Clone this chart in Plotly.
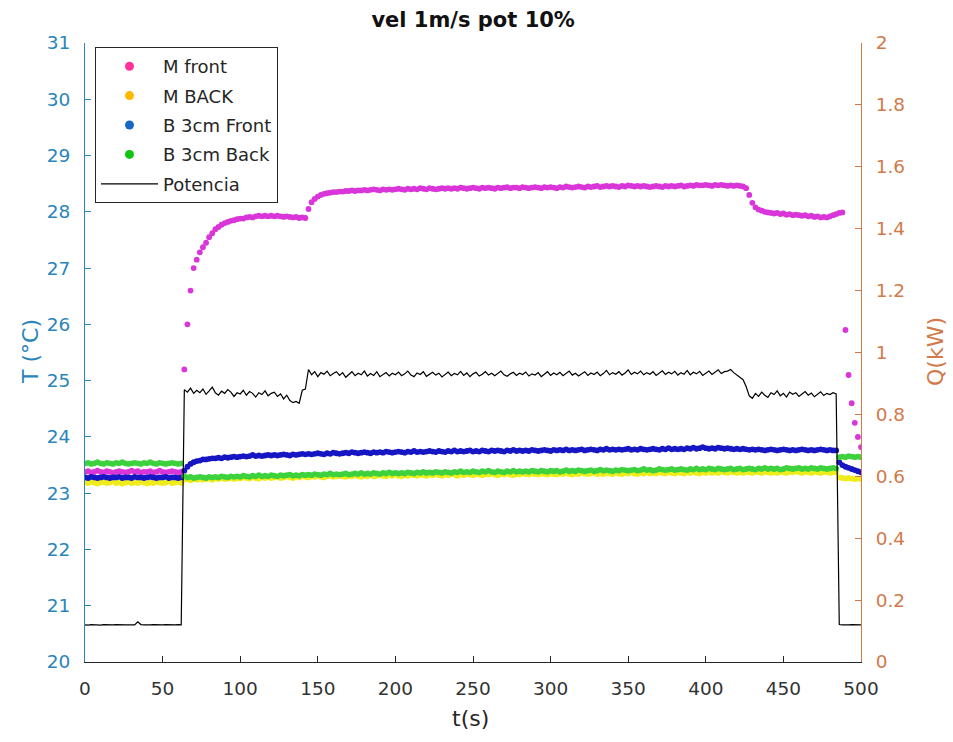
import plotly.graph_objects as go

# ---------------- data ----------------
t = list(range(0, 501, 2))  # time (s), 2 s sampling

m_front = [
    23.38,23.39,23.37,23.38,23.40,23.38,23.37,23.39,23.38,23.36,23.38,23.39,23.38,23.37,23.38,23.40,
    23.38,23.39,23.37,23.38,23.38,23.39,23.37,23.38,23.40,23.38,23.37,23.38,23.39,23.38,23.37,23.38,
    25.20,26.00,26.60,27.00,27.15,27.28,27.37,27.45,27.55,27.62,27.69,27.73,27.77,27.80,27.82,27.84,
    27.85,27.87,27.88,27.88,27.90,27.91,27.90,27.92,27.93,27.92,27.93,27.92,27.93,27.92,27.93,27.92,
    27.91,27.92,27.91,27.90,27.91,27.89,27.90,27.89,
    28.05,28.17,28.23,28.27,28.30,28.32,28.33,28.34,28.35,28.35,28.36,28.36,28.37,28.37,28.38,28.37,28.38,
    28.38,28.39,28.38,28.39,28.40,28.39,28.38,28.40,28.39,28.40,
    28.39,28.40,28.41,28.40,28.39,28.41,28.40,28.41,28.40,28.42,
    28.41,28.40,28.42,28.41,28.40,28.41,28.42,28.41,28.42,28.41,
    28.42,28.41,28.43,28.42,28.41,28.42,28.43,28.42,28.41,28.43,
    28.42,28.43,28.42,28.41,28.43,28.42,28.43,28.44,28.42,28.43,
    28.43,28.42,28.44,28.43,28.42,28.43,28.44,28.43,28.42,28.44,
    28.43,28.44,28.43,28.42,28.44,28.43,28.45,28.44,28.43,28.44,
    28.45,28.44,28.43,28.45,28.44,28.45,28.46,28.44,28.45,28.46,
    28.45,28.46,28.45,28.44,28.46,28.45,28.47,28.46,28.45,28.46,
    28.45,28.46,28.45,28.44,28.45,28.46,28.45,28.44,28.46,28.45,
    28.46,28.45,28.46,28.47,28.45,28.46,28.47,28.46,28.48,28.47,
    28.47,28.48,28.47,28.46,28.48,28.47,28.48,28.47,28.46,28.47,
    28.46,28.47,28.46,28.45,
    28.42,28.30,28.16,28.08,28.04,28.02,28.00,27.99,27.98,27.97,27.98,27.96,27.97,27.95,27.96,27.94,
    27.95,27.94,27.93,27.94,27.92,27.93,27.91,27.92,27.90,27.91,27.90,27.92,27.94,27.96,27.98,27.99,
    25.90,25.10,24.60,24.25,24.00,23.82,
]

m_back = [
    23.19,23.18,23.20,23.19,23.17,23.19,23.20,23.18,23.19,23.21,23.18,23.19,23.17,23.19,23.20,23.18,
    23.19,23.18,23.20,23.19,23.17,23.19,23.18,23.20,23.19,23.18,23.19,23.21,23.18,23.19,23.20,23.18,
    23.24,23.25,23.23,23.25,23.24,23.26,23.24,23.25,23.26,23.24,
    23.26,23.25,23.27,23.25,23.26,23.27,23.25,23.27,23.26,23.28,
    23.27,23.26,23.28,23.27,23.26,23.28,23.27,23.29,23.27,23.28,
    23.29,23.27,23.28,23.30,23.28,23.27,23.29,23.28,23.30,23.29,
    23.28,23.30,23.29,23.31,23.29,23.28,23.30,23.31,23.29,23.30,
    23.31,23.30,23.29,23.31,23.30,23.32,23.30,23.29,23.31,23.30,
    23.32,23.30,23.31,23.33,23.31,23.30,23.32,23.31,23.33,23.31,
    23.30,23.32,23.31,23.33,23.32,23.31,23.33,23.32,23.31,23.33,
    23.32,23.34,23.32,23.31,23.33,23.32,23.34,23.33,23.31,23.33,
    23.32,23.34,23.33,23.32,23.34,23.33,23.32,23.34,23.33,23.35,
    23.33,23.32,23.34,23.33,23.35,23.33,23.32,23.34,23.33,23.35,
    23.34,23.33,23.35,23.34,23.33,23.35,23.34,23.33,23.35,23.34,
    23.33,23.35,23.34,23.36,23.34,23.33,23.35,23.34,23.36,23.35,
    23.34,23.35,23.36,23.34,23.35,23.34,23.36,23.35,23.34,23.36,
    23.35,23.34,23.36,23.35,23.37,23.35,23.34,23.36,23.35,23.37,
    23.35,23.36,23.35,23.37,23.36,23.35,23.37,23.36,23.35,23.37,
    23.36,23.35,23.37,23.36,23.38,23.36,23.35,23.37,23.36,23.38,
    23.36,23.37,23.36,23.38,23.37,23.36,23.38,23.37,23.36,23.37,
    23.36,23.38,23.37,23.36,23.38,23.37,23.36,23.38,23.37,23.36,
    23.37,23.36,23.38,23.37,23.36,23.38,23.37,23.39,23.37,23.36,
    23.38,23.37,23.36,23.38,23.37,23.36,23.38,23.37,23.36,23.37,
    23.37,23.28,23.27,23.26,23.27,23.26,23.25,23.26,23.25,
]

b_front = [
    23.28,23.27,23.29,23.28,23.27,23.28,23.29,23.28,23.27,23.28,23.28,23.29,23.27,23.28,23.28,23.27,
    23.29,23.28,23.28,23.27,23.28,23.29,23.28,23.27,23.28,23.28,23.29,23.27,23.28,23.28,23.27,23.28,
    23.40,23.47,23.52,23.55,23.57,23.58,23.60,23.60,23.61,23.62,
    23.62,23.63,23.62,23.64,23.63,23.64,23.65,23.64,23.65,23.66,
    23.65,23.66,23.68,23.66,23.67,23.66,23.67,23.68,23.67,23.68,
    23.67,23.68,23.69,23.68,23.67,23.69,23.68,23.69,23.70,23.69,
    23.70,23.69,23.70,23.71,23.70,23.69,23.71,23.70,23.72,23.71,
    23.70,23.71,23.72,23.71,23.73,23.72,23.71,23.72,23.73,23.72,
    23.71,23.73,23.72,23.73,23.72,23.74,23.73,23.72,23.73,23.74,
    23.73,23.72,23.74,23.73,23.75,23.73,23.74,23.73,23.74,23.75,
    23.74,23.73,23.75,23.74,23.73,23.75,23.74,23.76,23.74,23.75,
    23.74,23.75,23.76,23.74,23.75,23.74,23.76,23.75,23.74,23.76,
    23.75,23.76,23.75,23.74,23.76,23.75,23.77,23.75,23.76,23.75,
    23.76,23.75,23.77,23.76,23.75,23.76,23.77,23.76,23.75,23.77,
    23.76,23.77,23.76,23.78,23.76,23.77,23.76,23.77,23.78,23.76,
    23.77,23.78,23.77,23.76,23.78,23.77,23.79,23.77,23.78,23.77,
    23.78,23.77,23.78,23.79,23.77,23.78,23.77,23.79,23.78,23.77,
    23.78,23.79,23.78,23.77,23.79,23.78,23.80,23.78,23.79,23.78,
    23.79,23.78,23.80,23.79,23.81,23.79,23.80,23.82,23.80,23.79,
    23.80,23.79,23.81,23.80,23.79,23.80,23.79,23.78,23.79,23.78,
    23.79,23.78,23.77,23.78,23.77,23.78,23.77,23.76,23.77,23.78,
    23.77,23.76,23.77,23.78,23.77,23.76,23.77,23.76,23.77,23.78,
    23.77,23.76,23.77,23.76,23.77,23.78,23.77,23.76,23.77,23.76,
    23.76,23.55,23.50,23.47,23.45,23.43,23.41,23.39,23.37,
]

b_back = [
    23.53,23.54,23.52,23.53,23.55,23.53,23.52,23.54,23.53,23.52,23.54,23.53,23.55,23.53,23.52,23.53,
    23.54,23.53,23.52,23.54,23.53,23.55,23.53,23.52,23.54,23.53,23.52,23.53,23.54,23.53,23.52,23.53,
    23.30,23.28,23.29,23.27,23.28,23.29,23.28,23.27,23.29,23.28,
    23.29,23.28,23.30,23.29,23.28,23.30,23.29,23.30,23.29,23.31,
    23.30,23.29,23.31,23.30,23.32,23.30,23.31,23.30,23.32,23.31,
    23.30,23.32,23.31,23.32,23.33,23.31,23.32,23.31,23.33,23.32,
    23.33,23.32,23.34,23.33,23.32,23.34,23.33,23.35,23.33,23.34,
    23.33,23.34,23.35,23.33,23.34,23.35,23.34,23.36,23.34,23.35,
    23.34,23.36,23.35,23.34,23.36,23.35,23.37,23.35,23.36,23.35,
    23.36,23.35,23.37,23.36,23.35,23.37,23.36,23.38,23.36,23.37,
    23.36,23.38,23.37,23.36,23.38,23.37,23.36,23.38,23.37,23.39,
    23.37,23.38,23.37,23.39,23.38,23.37,23.39,23.38,23.40,23.38,
    23.37,23.39,23.38,23.37,23.39,23.38,23.40,23.38,23.39,23.38,
    23.39,23.38,23.40,23.39,23.38,23.40,23.39,23.38,23.40,23.39,
    23.40,23.38,23.39,23.41,23.39,23.40,23.39,23.41,23.40,23.39,
    23.40,23.41,23.39,23.40,23.42,23.40,23.41,23.40,23.39,23.41,
    23.40,23.42,23.41,23.40,23.41,23.42,23.40,23.41,23.43,23.41,
    23.42,23.40,23.41,23.43,23.42,23.41,23.42,23.43,23.41,23.42,
    23.43,23.42,23.41,23.43,23.42,23.44,23.42,23.43,23.42,23.44,
    23.43,23.42,23.44,23.43,23.42,23.43,23.44,23.42,23.43,23.44,
    23.42,23.43,23.44,23.43,23.42,23.44,23.43,23.45,23.43,23.44,
    23.43,23.44,23.42,23.43,23.45,23.44,23.43,23.44,23.45,23.43,
    23.44,23.43,23.45,23.44,23.43,23.45,23.44,23.43,23.44,23.45,
    23.44,23.64,23.65,23.64,23.66,23.65,23.64,23.65,23.64,
]

potencia = [
    0.120,0.119,0.121,0.120,0.120,0.119,0.121,0.120,0.119,0.120,0.121,0.120,0.119,0.120,0.120,0.121,
    0.120,0.130,0.121,0.120,0.119,0.120,0.121,0.120,0.119,0.120,0.121,0.120,0.119,0.120,0.121,0.120,
    0.880,0.872,0.885,0.868,0.878,0.870,0.882,0.865,0.876,0.888,
    0.870,0.862,0.875,0.868,0.880,0.872,0.858,0.870,0.866,0.878,
    0.862,0.874,0.868,0.856,0.870,0.864,0.876,0.860,0.868,0.872,
    0.858,0.866,0.850,0.862,0.845,0.838,0.842,0.836,0.878,0.882,
    0.945,0.928,0.938,0.922,0.935,0.930,0.940,0.925,0.932,0.938,
    0.926,0.935,0.920,0.930,0.938,0.925,0.933,0.928,0.940,0.924,
    0.932,0.926,0.938,0.922,0.930,0.935,0.924,0.933,0.928,0.937,
    0.925,0.931,0.940,0.927,0.922,0.934,0.929,0.938,0.923,0.931,
    0.936,0.927,0.933,0.921,0.930,0.937,0.925,0.932,0.928,0.939,
    0.926,0.934,0.922,0.931,0.936,0.924,0.930,0.938,0.927,0.933,
    0.925,0.932,0.940,0.928,0.923,0.931,0.936,0.926,0.933,0.929,
    0.937,0.924,0.931,0.927,0.935,0.922,0.930,0.938,0.926,0.934,
    0.928,0.936,0.925,0.932,0.940,0.927,0.933,0.924,0.931,0.938,
    0.926,0.934,0.929,0.937,0.925,0.932,0.942,0.928,0.935,0.930,
    0.938,0.927,0.934,0.944,0.929,0.936,0.931,0.940,0.928,0.935,
    0.930,0.938,0.926,0.934,0.941,0.929,0.936,0.931,0.939,0.927,
    0.935,0.930,0.942,0.928,0.936,0.931,0.939,0.926,0.934,0.940,
    0.929,0.937,0.944,0.932,0.938,0.940,0.945,0.935,0.928,0.920,
    0.912,
    0.890,0.860,0.852,0.868,0.858,0.872,0.862,0.855,0.870,0.864,
    0.876,0.860,0.868,0.856,0.872,0.865,0.870,0.858,0.866,0.874,
    0.862,0.869,0.857,0.866,0.873,0.861,0.868,0.864,0.870,0.866,
    0.121,0.120,0.119,0.120,0.121,0.120,0.119,0.120,
]

names = ["M front", "M BACK", "B 3cm Front", "B 3cm Back"]
temp_series = [m_front, m_back, b_front, b_back]
data_colors = ["#d935d9", "#f0ec1c", "#1616c4", "#3dd23d"]
legend_colors = ["#ff3399", "#ffb800", "#1668c2", "#10c410"]

LEFT_C = "#2a85bb"
RIGHT_C = "#d27a4a"
FONT = "DejaVu Sans, Arial, Helvetica, sans-serif"

fig = go.Figure()

for name, ys, dc in zip(names, temp_series, data_colors):
    fig.add_trace(go.Scatter(x=t, y=ys, mode="markers", name=name, showlegend=False,
                             marker=dict(color=dc, size=5.8, line=dict(width=0)),
                             yaxis="y"))

fig.add_trace(go.Scatter(x=t, y=potencia, mode="lines", name="Potencia", showlegend=False,
                         line=dict(color="black", width=1.2), yaxis="y2"))

# legend entries
for i, (name, lc) in enumerate(zip(names, legend_colors)):
    fig.add_trace(go.Scatter(x=[None], y=[None], mode="markers", name=name,
                             legendgroup="g%d" % i,
                             marker=dict(color=lc, size=9), yaxis="y"))
fig.add_trace(go.Scatter(x=[None], y=[None], mode="lines", name="Potencia", legendgroup="g9",
                         line=dict(color="black", width=1.2), yaxis="y2"))

fig.update_layout(
    width=953, height=742,
    margin=dict(l=85, r=92, t=43, b=80),
    paper_bgcolor="white", plot_bgcolor="white",
    font=dict(family=FONT, size=18, color="#262626"),
    title=dict(text="<b>vel 1m/s pot 10%</b>", x=0.4965, xanchor="center",
               y=1 - 20 / 742, yanchor="middle", yref="container",
               font=dict(size=21, color="#111111")),
    xaxis=dict(range=[0, 500], dtick=50, tick0=0, showline=True, linecolor="#262626",
               linewidth=1, ticks="inside", ticklen=6, tickcolor="#262626",
               showgrid=False, zeroline=False, ticklabelstandoff=10,
               tickfont=dict(size=18.5, color="#333333")),
    yaxis=dict(range=[20, 31], dtick=1, tick0=20, showline=True, linecolor=LEFT_C,
               linewidth=1, ticks="inside", ticklen=6, tickcolor=LEFT_C,
               showgrid=False, zeroline=False, ticklabelstandoff=10,
               tickfont=dict(size=18.5, color=LEFT_C)),
    yaxis2=dict(range=[0, 2], dtick=0.2, tick0=0, overlaying="y", side="right",
                showline=True, linecolor=RIGHT_C, linewidth=1, ticks="inside",
                ticklen=6, tickcolor=RIGHT_C, showgrid=False, zeroline=False,
                ticklabelstandoff=10, tickfont=dict(size=18.5, color=RIGHT_C)),
    legend=dict(x=(95 - 85) / 776, y=1 - (47 - 43) / 619, xanchor="left", yanchor="top",
                bgcolor="white", bordercolor="#262626", borderwidth=1,
                font=dict(size=18, color="#262626"), traceorder="grouped",
                tracegroupgap=3, itemwidth=57),
    annotations=[
        dict(text="t(s)", xref="paper", yref="paper", x=0.4965, y=-(718 - 662) / 619,
             xanchor="center", yanchor="middle", showarrow=False,
             font=dict(size=22, color="#262626")),
        dict(text="T (°C)", xref="paper", yref="paper", x=-(85 - 30) / 776, y=(662 - 352) / 619,
             xanchor="center", yanchor="middle", textangle=-90, showarrow=False,
             font=dict(size=22, color=LEFT_C)),
        dict(text="Q(kW)", xref="paper", yref="paper", x=1 + (935 - 861) / 776, y=(662 - 352) / 619,
             xanchor="center", yanchor="middle", textangle=-90, showarrow=False,
             font=dict(size=22, color=RIGHT_C)),
    ],
)

fig.write_html("out.html", config={"displayModeBar": False},
               post_script="document.body.style.margin='0';")
